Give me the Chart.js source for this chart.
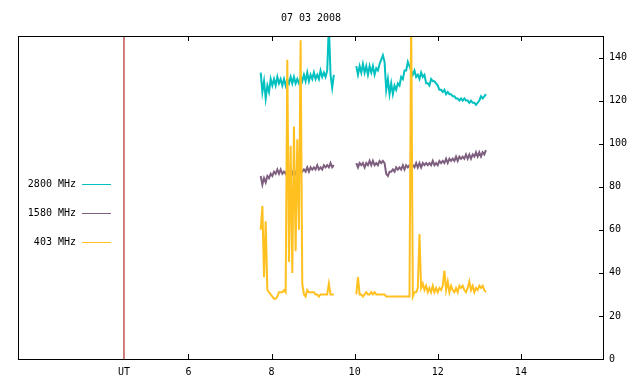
<!DOCTYPE html>
<html>
<head>
<meta charset="utf-8">
<script src="https://cdn.jsdelivr.net/npm/chart.js@4/dist/chart.umd.min.js"></script>
<style>
html, body { margin: 0; padding: 0; background: #fff; }
</style>
</head>
<body>
<canvas id="chart" width="640" height="384"></canvas>
<script>
const titulo = "07 03 2008"
const horaUT = 4.45
const ticksX = [6, 8, 10, 12, 14]
const ticksY = [0, 20, 40, 60, 80, 100, 120, 140]
const etiquetas = ["2800 MHz", "1580 MHz", "403 MHz"]
const colores = ["#00c0c0", "#7f5f7f", "#ffc020"]

// horas UT de cada tramo
const t1 = [7.74, 7.78, 7.82, 7.86, 7.90, 7.94, 7.98, 8.02, 8.06, 8.10, 8.14, 8.18, 8.22, 8.26, 8.30,
    8.34, 8.38, 8.42, 8.46, 8.50, 8.54, 8.58, 8.62, 8.66, 8.70, 8.74, 8.78, 8.82, 8.86, 8.90,
    8.94, 8.98, 9.02, 9.06, 9.10, 9.14, 9.18, 9.22, 9.26, 9.30, 9.34, 9.38, 9.42, 9.46, 9.50]
const t2 = [10.04, 10.08, 10.12, 10.16, 10.20, 10.24, 10.28, 10.32, 10.36, 10.40, 10.44, 10.48, 10.52,
    10.56, 10.60, 10.64, 10.68, 10.72, 10.76, 10.80, 10.84, 10.88, 10.92, 10.96, 11.00, 11.04,
    11.08, 11.12, 11.16, 11.20, 11.24, 11.28, 11.32, 11.36, 11.40, 11.44, 11.48, 11.52, 11.56,
    11.60, 11.64, 11.68, 11.72, 11.76, 11.80, 11.84, 11.88, 11.92, 11.96, 12.00, 12.04, 12.08,
    12.12, 12.16, 12.20, 12.24, 12.28, 12.32, 12.36, 12.40, 12.44, 12.48, 12.52, 12.56, 12.60,
    12.64, 12.68, 12.72, 12.76, 12.80, 12.84, 12.88, 12.92, 12.96, 13.00, 13.04, 13.08, 13.12, 13.16]

const f2800a = [133, 124, 129, 121, 127, 124, 130, 127, 130, 127, 131, 128, 130, 127, 130,
    127, 130, 128, 131, 128, 131, 128, 130, 128, 131, 129, 132, 129, 133, 129,
    132, 130, 133, 130, 132, 130, 134, 131, 133, 131, 134, 155, 132, 126, 132]
const f2800b = [136, 132, 136, 133, 137, 133, 136, 132, 136, 133, 136, 132, 135,
    134, 137, 139, 141, 138, 125, 130, 123, 128, 123, 127, 125, 128,
    127, 131, 130, 134, 134, 138, 136, 134, 132, 134, 131, 132, 130,
    133, 131, 132, 128, 128, 127, 130, 129, 129, 128, 127, 125, 125,
    124, 125, 123, 124, 123, 123, 122, 122, 121, 121, 120, 121, 120,
    121, 120, 120, 119, 120, 119, 119, 118, 119, 120, 122, 121, 122, 123]

const f1580a = [85, 81, 84, 82, 85, 84, 86, 85, 87, 86, 88, 86, 88, 86, 87,
    86, 88, 86, 88, 86, 88, 86, 87, 86, 88, 87, 88, 87, 89, 87,
    89, 88, 89, 88, 90, 88, 89, 88, 90, 89, 90, 89, 91, 89, 90]
const f1580b = [91, 89, 91, 90, 91, 89, 91, 90, 92, 90, 92, 90, 91,
    90, 92, 91, 92, 91, 86, 85, 87, 87, 88, 87, 89, 88,
    89, 88, 90, 88, 90, 89, 90, 89, 90, 89, 91, 89, 91,
    89, 91, 90, 91, 90, 91, 90, 92, 90, 91, 90, 92, 91,
    92, 91, 93, 91, 93, 92, 93, 92, 94, 92, 94, 93, 94,
    93, 95, 93, 95, 93, 95, 94, 96, 94, 96, 94, 96, 95, 97]

const f403a = [60, 71, 38, 64, 32, 31, 30, 29, 28, 28, 29, 31, 31, 31, 32,
    31, 139, 45, 99, 40, 108, 50, 102, 60, 148, 35, 30, 29, 32, 31,
    31, 31, 31, 30, 30, 29, 30, 30, 30, 30, 30, 35, 30, 30, 30]
const f403b = [30, 38, 30, 30, 29, 30, 31, 30, 30, 31, 30, 31, 30,
    30, 30, 30, 30, 30, 29, 29, 29, 29, 29, 29, 29, 29,
    29, 29, 29, 29, 29, 29, 29, 160, 29, 31, 31, 33, 58,
    33, 35, 32, 34, 31, 33, 31, 34, 31, 33, 31, 33, 32,
    34, 41, 32, 36, 31, 34, 32, 31, 33, 31, 34, 33, 34,
    32, 31, 33, 36, 32, 34, 31, 33, 32, 34, 33, 34, 32, 31]

function tramos(a, b) {
    const puntos = t1.map((x, i) => ({x: x, y: a[i]}))
    puntos.push({x: 9.8, y: null})
    return puntos.concat(t2.map((x, i) => ({x: x, y: b[i]})))
}

const fuente = '10px "DejaVu Sans Mono", monospace'

const marco = {
    id: 'marco',
    beforeDatasetsDraw(c) {
        const {ctx, chartArea: a, scales: {x, y}} = c
        ctx.save()
        ctx.strokeStyle = '#000'
        ctx.lineWidth = 1
        ctx.beginPath()
        ticksX.forEach(v => {
            const px = Math.round(x.getPixelForValue(v)) + 0.5
            ctx.moveTo(px, a.bottom); ctx.lineTo(px, a.bottom - 5)
            ctx.moveTo(px, a.top); ctx.lineTo(px, a.top + 5)
        })
        ticksY.forEach(v => {
            const py = Math.round(y.getPixelForValue(v)) + 0.5
            ctx.moveTo(a.right, py); ctx.lineTo(a.right - 5, py)
        })
        ctx.stroke()
        ctx.restore()
    },
    afterDatasetsDraw(c) {
        const {ctx, chartArea: a} = c
        ctx.save()
        ctx.strokeStyle = '#000'
        ctx.lineWidth = 1
        ctx.strokeRect(Math.round(a.left) + 0.5, Math.round(a.top) + 0.5,
            Math.round(a.right - a.left) - 1, Math.round(a.bottom - a.top))
        ctx.font = fuente
        ctx.fillStyle = '#000'
        ctx.textBaseline = 'middle'
        ctx.textAlign = 'center'
        ctx.fillText(titulo, (a.left + a.right) / 2, 18)
        etiquetas.forEach((txt, i) => {
            const py = Math.round(a.top + 148 + i * 29) + 0.5
            ctx.textAlign = 'right'
            ctx.fillStyle = '#000'
            ctx.fillText(txt, a.left + 58, py)
            ctx.strokeStyle = colores[i]
            ctx.beginPath()
            ctx.moveTo(a.left + 64, py); ctx.lineTo(a.left + 93, py)
            ctx.stroke()
        })
        ctx.restore()
    }
}

const serie = (label, data, color, orden, ancho) => ({
    label: label, data: data, borderColor: color, backgroundColor: color,
    borderWidth: ancho, pointRadius: 0, tension: 0, spanGaps: false, order: orden
})

new Chart(document.getElementById("chart"), {
    type: 'line',
    data: {
        datasets: [
            serie(etiquetas[0], tramos(f2800a, f2800b), colores[0], 2, 2),
            serie(etiquetas[1], tramos(f1580a, f1580b), colores[1], 1, 2),
            serie(etiquetas[2], tramos(f403a, f403b), colores[2], 0, 2),
            serie('UT', [{x: horaUT, y: 0}, {x: horaUT, y: 150}], '#a00000', 3, 1)
        ]
    },
    options: {
        responsive: false,
        animation: false,
        layout: {padding: {left: 18, top: 36, right: 0, bottom: 0}},
        plugins: {legend: {display: false}, tooltip: {enabled: false}},
        scales: {
            x: {
                type: 'linear', min: 1.9, max: 16,
                afterBuildTicks: ax => { ax.ticks = [horaUT].concat(ticksX).map(v => ({value: v})) },
                afterFit: ax => { ax.height = 25 },
                grid: {display: false, drawTicks: false},
                border: {display: false},
                ticks: {
                    padding: 7, color: '#000', font: {family: 'DejaVu Sans Mono', size: 10},
                    maxRotation: 0, autoSkip: false,
                    callback: v => v === horaUT ? 'UT' : v
                }
            },
            y: {
                position: 'right', min: 0, max: 150,
                afterBuildTicks: ax => { ax.ticks = ticksY.map(v => ({value: v})) },
                afterFit: ax => { ax.width = 36 },
                grid: {display: false, drawTicks: false},
                border: {display: false},
                ticks: {padding: 5, color: '#000', font: {family: 'DejaVu Sans Mono', size: 10}}
            }
        }
    },
    plugins: [marco]
})
</script>
</body>
</html>
